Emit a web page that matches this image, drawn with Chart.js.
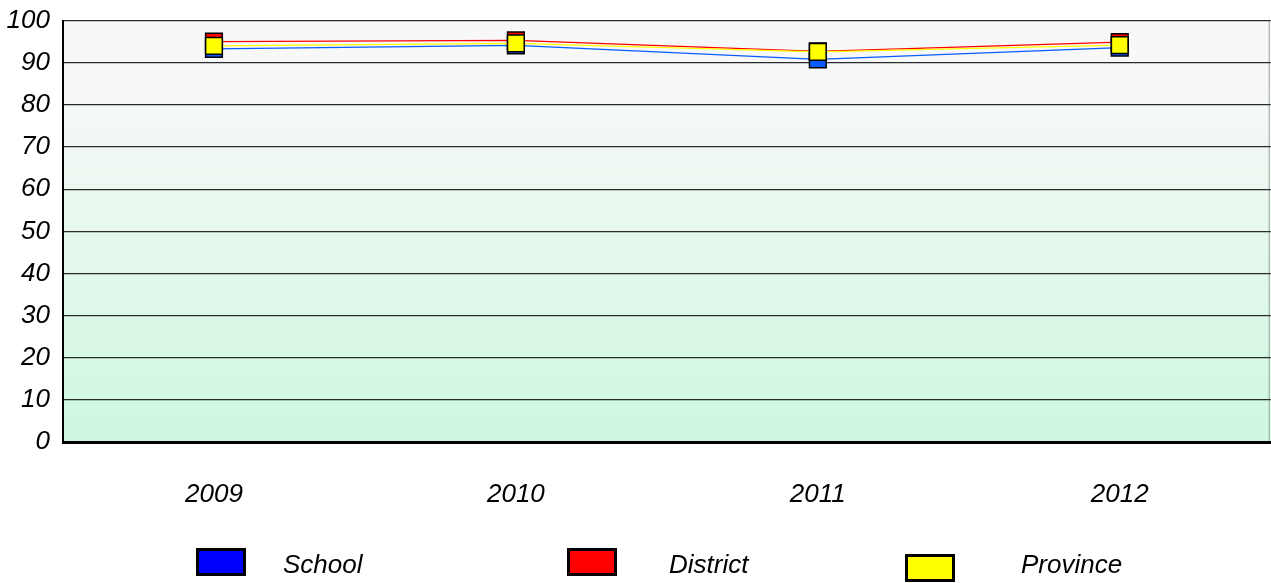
<!DOCTYPE html>
<html>
<head>
<meta charset="utf-8">
<script src="https://cdn.jsdelivr.net/npm/chart.js@4/dist/chart.umd.min.js"></script>
<style>
    html, body { margin: 0; padding: 0; background: #ffffff; overflow: hidden; }
    #page { position: relative; width: 1271px; height: 583px; overflow: hidden; }
    #wrap { position: absolute; left: 0; top: -8px; width: 1284px; height: 591px; }
    .legend-item { position: absolute; font: italic 26px 'Liberation Sans', Arial, sans-serif; color: #000; }
    .legend-box { position: absolute; width: 44px; height: 22px; border: 3px solid #000; }
    .legend-text { position: absolute; white-space: nowrap; line-height: 30px; }
</style>
</head>
<body>
<div id="page">
    <div id="wrap"><canvas id="chart"></canvas></div>
    <div id="legend"></div>
</div>
<script>
const years = ['2009', '2010', '2011', '2012'];
const school = [93.3, 94.1, 90.8, 93.6];
const district = [95.0, 95.3, 92.7, 94.9];
const province = [94.0, 94.6, 92.6, 94.2];
const yTicks = [0, 10, 20, 30, 40, 50, 60, 70, 80, 90, 100];

const seriesNames = ['School', 'District', 'Province'];
const lineColors = ['#0a5cff', '#ff0000', '#ffff00'];
const legendColors = ['#0000ff', '#ff0000', '#ffff00'];

const font = { family: "'Liberation Sans', Arial, sans-serif", size: 26, style: 'italic' };

// Фон области графика: от серого сверху к мятному снизу
const plotBackground = {
    id: 'plotBackground',
    beforeDraw(chart) {
        const { ctx, chartArea: a } = chart;
        const g = ctx.createLinearGradient(0, a.top, 0, a.bottom);
        g.addColorStop(0, '#f8f8f8');
        g.addColorStop(0.18, '#f6f8f7');
        g.addColorStop(1, '#cdf8df');
        ctx.save();
        ctx.fillStyle = g;
        ctx.fillRect(a.left, a.top, a.right - a.left, a.bottom - a.top);
        ctx.strokeStyle = '#9aa09c';
        ctx.lineWidth = 1;
        ctx.beginPath();
        ctx.moveTo(a.right - 1.5, a.top);
        ctx.lineTo(a.right - 1.5, a.bottom);
        ctx.stroke();
        ctx.restore();
    }
};

const makeDataset = (i, data) => ({
    label: seriesNames[i],
    data: data,
    borderColor: lineColors[i],
    backgroundColor: lineColors[i],
    borderWidth: 1.3,
    pointStyle: 'rect',
    pointRadius: 11.8,
    pointHoverRadius: 11.8,
    pointBorderColor: '#000000',
    pointBorderWidth: 1.5,
    pointBackgroundColor: lineColors[i],
    tension: 0
});

// Province рисуется последним (поверх), поэтому стоит первым
new Chart(document.getElementById('chart'), {
    type: 'line',
    data: {
        labels: years,
        datasets: [makeDataset(2, province), makeDataset(1, district), makeDataset(0, school)]
    },
    options: {
        responsive: true,
        maintainAspectRatio: false,
        animation: false,
        layout: { padding: { top: 20, right: 1, left: 0, bottom: 0 } },
        plugins: { legend: { display: false }, tooltip: { enabled: false } },
        scales: {
            x: {
                offset: true,
                afterFit(s) { s.height = 141; },
                grid: { display: false, drawTicks: false },
                border: { color: '#000000', width: 3 },
                ticks: { font: font, color: '#000000', padding: 37 }
            },
            y: {
                min: 0,
                max: 100,
                afterFit(s) { s.width = 63; },
                afterBuildTicks(s) { s.ticks = yTicks.map(v => ({ value: v })); },
                grid: { color: '#2a2a2a', lineWidth: 1.3, drawTicks: false },
                border: { color: '#000000', width: 2 },
                ticks: { font: font, color: '#000000', padding: 13 }
            }
        }
    },
    plugins: [plotBackground]
});

// Легенда: позиции как в оригинале
const legendPos = [
    { box: [196, 548], text: [283, 549] },
    { box: [567, 548], text: [669, 549] },
    { box: [905, 554], text: [1021, 549] }
];
const legend = document.getElementById('legend');
seriesNames.forEach((name, i) => {
    const p = legendPos[i];
    const box = document.createElement('div');
    box.className = 'legend-item legend-box';
    box.style.left = p.box[0] + 'px';
    box.style.top = p.box[1] + 'px';
    box.style.background = legendColors[i];
    legend.appendChild(box);
    const txt = document.createElement('div');
    txt.className = 'legend-item legend-text';
    txt.style.left = p.text[0] + 'px';
    txt.style.top = p.text[1] + 'px';
    txt.textContent = name;
    legend.appendChild(txt);
});
</script>
</body>
</html>
